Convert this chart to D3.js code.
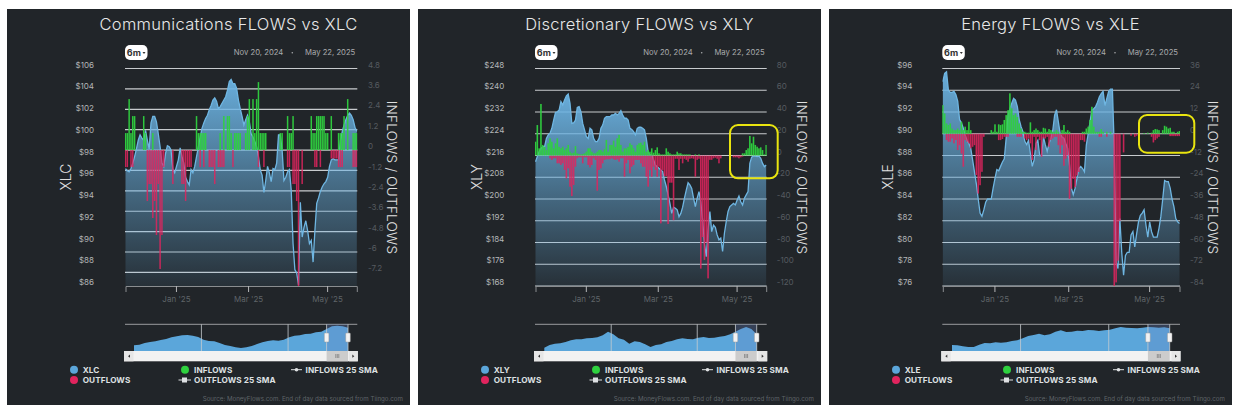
<!DOCTYPE html>
<html><head><meta charset="utf-8">
<script src="https://cdn.jsdelivr.net/npm/d3@7"></script>
<style>
html,body{margin:0;padding:0;background:#fff}
svg{display:block}
text{font-family:Inter,"Open Sans",sans-serif}
</style></head><body><svg id="c" width="1237" height="409"></svg>
<script>
const xlcPrice=[96.8,96.6,96.5,96.8,97.3,97.9,98.6,99.4,99.9,99.6,99.4,100.3,99.4,98.6,101,101.6,101.6,101.1,100,98.8,97.3,97,98.2,98.9,98.8,98.5,96.7,96.4,97,97.6,98.7,97.9,97.3,96,95.6,95.3,96.7,96.4,97,97.9,98.8,99.7,100.5,101,101.4,101.7,102.2,102.6,103.1,103.3,103,102.3,102.5,102.8,103.1,103.4,104,104.8,105,104.6,104.6,104.2,103.1,102.3,101.6,100.8,101.3,101.7,101.1,100,99.7,99.3,98.8,97.9,96.66,96.2,94.6,95.7,97,96.4,95.6,96.8,96.7,97.3,99.9,99.9,98.5,95.7,96,96.5,96.7,94.8,89.9,87.5,87.2,86.1,93.7,90.5,91.4,92,91.1,89.9,90.2,88.2,91.1,93.6,94.1,94.7,95.1,95.4,95.6,96,97,97.6,97.7,97.6,97.6,97.6,99.4,100.2,100.8,101.3,101.7,101.9,101.7,101.3,100.6,100.2];
const xlcIn=[1,1,3,1,2,2,0,0,0,0,2,1,0,0,0,1,0,0,0,0,0,0,0,0,0,0,0,0,0,0,0,0,0,0,0,0,0,0,0,2,1,1,1,1,1,0,0,0,0,0,0,0,1,0,2,0,2,2,1,0,1,1,1,1,0,0,1,2,3,0,3,1,3,4,1,1,1,1,0,0,0,0,0,0,0,1,1,0,0,2,1,1,2,0,0,0,0,0,0,0,0,0,2,1,1,2,2,2,2,2,1,1,0,2,0,0,0,1,1,1,2,0,3,0,0,1,1,1];
const xlcOut=[-1,-1,0,-1,-1,0,0,0,0,0,0,0,-3,-2,-2,-4,-3,-5,-2,-7,-5,-1,0,0,0,0,-2,0,0,0,0,-2,-2,-3,-1,-1,-1,0,0,0,0,-1,0,-1,0,0,-1,-1,-1,-2,0,-1,-1,-1,-1,0,0,0,0,-1,0,0,0,0,0,0,0,0,0,0,0,0,0,-1,0,0,-1,0,0,0,0,0,0,0,0,0,0,0,0,-1,-1,0,-2,-2,-3,-8,0,-2,0,0,0,0,0,0,-1,-1,0,-1,0,0,0,0,0,-0.5,-0.5,-0.5,-0.5,-1,-1,-1,0,0,0,0,0,-1,-1,-1];
const xlcNav=[17,19,24,27,29,33,36,41,44,47,48,46,42,34,30,29,24,18,15,11,9,11,15,21,26,30,32,31,34,41,46,47,51,52,56,58,66,74,76,74,70];

const xlyPrice=[213.7,215.6,217.4,218.6,219.3,219.3,222.3,223.6,224.2,226,229,231.8,232.1,232.7,235.8,234.6,236.4,237.9,238.6,235.2,227.8,228,229,233.7,234,232.1,227.8,225.4,222.9,222.3,226,225.4,222.3,221.1,221.1,222.3,226,227.2,229.7,230.3,230.3,230.3,230.9,230.9,231.5,230.9,231.5,232.5,230.9,229.7,229.7,229,226,225.6,224.8,223.6,226,226.4,226.4,226,225.4,222.3,217.4,216.2,216.2,214.4,212.5,211.9,211.3,210.7,210.1,207,204.6,201.5,198.4,194.7,197,196.6,196,193.5,194.7,197,200.3,203.3,206,205.2,203.9,200.3,197.2,200.3,202.7,199,192.3,183.7,178.8,188.6,195.4,188,190.4,189.6,186.8,185,185.6,180.7,187.4,191.7,195.4,197.2,197.8,198.4,197.8,199.6,201.1,199,197.8,200.3,201.5,202.7,213.1,215.4,215.8,215.8,215.6,215.8,215,213.1,211.9,212.5];
const xlyIn=[12.7,28,6.6,47.4,9.7,8,5,11.2,15.8,12.7,6.6,11.2,15.8,8,6.6,8,5,6.6,9.7,3.5,2,2.6,8.7,2,1.4,1,1.4,2,3.5,6.6,6.6,3.5,2,2,3.5,5,5,3.5,5.7,14.3,3.5,9.7,9.7,13.7,8,15.8,19,9.7,3.5,6.6,6.6,8,11.2,9.7,6.6,3.5,9.7,11.2,11.8,9.7,12.7,3.5,5,3.5,6.6,2.6,5,7.5,2,1,1,1,6.6,3.5,2,1,1,1,3.5,2,2,1,1,1,1,1,0,0,1,0,1,0,0,0,0,0,0,0,0,0,0,0,0,0,0,0,0,0,0,0,0,0,0,0,2,2,5,6.6,18,11.2,17.3,9.7,8.1,6.6,7.5,5,1,9.7];
const xlyOut=[0,0,0,0,0,0,0,0,-2.6,-4.1,-2.6,-2.6,-7.2,-7.2,-8.7,-7.2,-13.3,-21,-11.8,-28.7,-37.3,-27.1,-10.3,-2.6,-1.7,-1.7,-7.2,-1.7,-1.7,-8.7,-10.9,-8.7,-2.6,-4.1,-32.4,-13.3,-11.8,-7.2,-4.1,-3.5,-3.5,-3.5,-2.6,-3.5,-4.1,-3.5,-5.7,-2.6,-2.6,-19.5,-7.2,-4.1,-16.4,-10.3,-8.7,-4.1,-4.1,-4.1,-7.2,-10.3,-10.3,-19.5,-28.7,-13.3,-19.5,-10.3,-13.3,-19.5,-10.3,-62.4,-13.3,-19,-19,-63,-25,-25,-59.5,-3,-3,-13.3,-3,-7.2,-3,-4,-5.7,-3,-2.6,-3,-19.5,-4,-3,-104,-75,-96,-80,-113,-4,-4,-2.6,-2,-3,-7.2,-2.6,0,0,0,0,0,0,-1.7,-1.7,-1.7,-2.6,-1.7,-1,0,0,0,0,0,0,0,0,0,0,0,0,0];
const xlyNav=[10,18,22,23,27,32,35,35,38,39,41,47,58,50,38,34,22,29,27,20,12,18,20,27,30,35,38,36,35,40,42,39,40,43,45,50,58,66,72,66,50];

const xlePrice=[94.8,95.55,95.7,94,93.8,93.8,93.9,93.6,93,91.3,91,90.5,89.9,89.4,89.1,88.65,87.6,86.5,85.4,84,82.7,82.4,83,83.7,84,84,84,85,85.9,86.7,86.6,87,87.4,87.7,89.6,91.7,92.3,92.8,93.25,93.1,92.5,91.3,90.65,90.2,89.3,89,89.4,88.2,87,87.6,89.1,89.4,88,88,89.7,89,88.4,89.1,89.6,90.3,91.7,92.2,91.1,90,89.7,89.6,89.1,88.65,87.1,85,84.4,85,85.9,86.8,87,86.8,86.5,88.95,90,91.1,92.2,92.3,92.5,92.9,93.4,93.7,93.9,92.6,93.25,93.9,94.1,94.1,88.65,78.2,77.6,82.2,79.1,77,78.8,79.1,79.1,80.7,81,79.6,80.8,81.9,82.5,82.7,83,81.6,80.5,81.9,81,80.5,80.5,80.5,81.3,82.4,84,85.7,85.6,85.6,85,84,83.3,82.2,81.9,81.75];
const xleIn=[15.8,11.2,5.7,4.8,5.7,2.9,2,2,2.9,2,6.6,2,3.9,2,6.6,2,0,0,0,0,0,0,0,0,0,0,2,1.1,5.2,1.1,5.2,4.8,5.2,7.6,10.3,13,22.3,14,10.3,11.2,9.2,5.7,2.9,1.1,1.1,0.6,0.6,6.3,1.1,2,2.9,2,1.1,1.1,3.3,2.9,1.1,2.6,2,1.1,1.1,2,1.1,0.2,2,4.8,1.1,2,1.1,0,0,0,0,0,0,1.1,1.1,2.9,3.9,7.6,14.9,3.9,1.1,1.1,1.1,2.6,1.1,0,1.1,0,1.1,0,0,0,0,0,0,0,0,0,0,0,0,0,0,0,0,0,0.4,0,0.6,0,0.6,2,2.6,2.4,2,0.2,2,4.4,3.9,2.9,3.3,1.1,1.1,0.2,1.1,1.5];
const xleOut=[0,0,-3.5,-4.4,-4.4,-2.6,-5.3,-3.5,-9,-6.3,-10.9,-18.2,-3.5,-4.4,-5.3,-8.1,-7.2,-6.3,-22.8,-33,-28.4,-21,-1.7,0,0,0,0,0,0,0,-3.5,-3.5,-2.9,-1.7,-1.7,-1.7,0,0,0,0,-1.7,-1.7,-1.7,0,-2.6,-3.5,-2.6,-5.3,-14.5,-1.7,-9,-1.7,-3.5,-12.7,-2.6,-2.6,-1.7,-7.2,-3.5,-2.6,-1.7,-1.7,-6.3,-10.9,-6.3,-17.7,-13.8,-11.9,-35.9,-30.4,-24.9,-29.5,-23,-21.1,-3.5,-3.5,-4.4,0,0,0,0,0,0,0,-1.7,-1.7,0,0,-1.7,0,0,0,-84,-82,-70,-48,0,-10.3,0,0,0,-1.1,0,-1.7,-1.1,0,0,0,0,0,0,0,-1.7,-4.8,-3.5,-2.6,-1.7,0,0,0,0,0,-1.3,-1.3,-1.3,-1.3,-1.3,-1.3,0,0];
const xleNav=[18,17,14,12,12,19,24,23,26,25,26,30,32,38,45,48,52,47,50,58,62,57,58,61,60,63,62,60,62,64,68,72,70,69,68,70,72,71,70,71,68];

const tickDays=[27.7,67.3,110.7];
const tickNames=["Jan '25","Mar '25","May '25"];
const navTicks=[12.6,28.8];
const navSelection=[36,40];
const xlcLeft=[106,104,102,100,98,96,94,92,90,88,86];
const xlyLeft=[248,240,232,224,216,208,200,192,184,176,168];
const xleLeft=[96,94,92,90,88,86,84,82,80,78,76];
const xlcRight=[4.8,3.6,2.4,1.2,0,-1.2,-2.4,-3.6,-4.8,-6,-7.2];
const xlyRight=[80,60,40,20,0,-20,-40,-60,-80,-100,-120];
const xleRight=[36,24,12,0,-12,-24,-36,-48,-60,-72,-84];
const sectors=["Communications","Discretionary","Energy"];
const tickers=["XLC","XLY","XLE"];
const startDate="Nov 20, 2024", endDate="May 22, 2025";
const legendA=["INFLOWS","INFLOWS 25 SMA"];
const sourceNote="Source: MoneyFlows.com. End of day data sourced from Tiingo.com";

const panels=[
 {i:0,px:7,x0:125,x1:357.3,navX:[134,348],price:xlcPrice,inf:xlcIn,out:xlcOut,nav:xlcNav,left:xlcLeft,right:xlcRight,rightMin:-8,labL:94,labR:368,titleL:66,titleR:391.7,barW:1.5},
 {i:1,px:418,x0:535,x1:766.7,navX:[544.3,756.7],price:xlyPrice,inf:xlyIn,out:xlyOut,nav:xlyNav,left:xlyLeft,right:xlyRight,rightMin:-120,labL:504.3,labR:776.7,titleL:476.7,titleR:801.7,barW:1.6,box:[730,125,47.7,53.3]},
 {i:2,px:829,x0:942.3,x1:1180,navX:[952,1169.7],price:xlePrice,inf:xleIn,out:xleOut,nav:xleNav,left:xleLeft,right:xleRight,rightMin:-84,labL:912.3,labR:1190,titleL:887.7,titleR:1213,barW:1.6,box:[1139,115,55.3,37.7]}
];
const TOP=68.5,BOT=286;
const svg=d3.select("#c");
const defs=svg.append("defs");
const g=defs.append("linearGradient").attr("id","ag").attr("x1",0).attr("x2",0).attr("y1",0).attr("y2",1);
g.append("stop").attr("offset",0).attr("stop-color","#6cb4e4").attr("stop-opacity",.95);
g.append("stop").attr("offset",.5).attr("stop-color","#6cb4e4").attr("stop-opacity",.5);
g.append("stop").attr("offset",1).attr("stop-color","#6cb4e4").attr("stop-opacity",.08);

panels.forEach(p=>{
  const G=svg.append("g");
  G.append("rect").attr("x",p.px).attr("y",9).attr("width",403).attr("height",396).attr("fill","#212529");
  G.append("text").attr("x",p.px+221.5).attr("y",29.5).attr("text-anchor","middle").attr("font-size",16.5).attr("fill","#e8e8e8").attr("font-weight",300).attr("letter-spacing",.3)
    .text(`${sectors[p.i]} FLOWS vs ${tickers[p.i]}`);
  const x=d3.scaleLinear().domain([0,p.price.length-1]).range([p.x0+.5,p.x1-.5]);
  const yL=d3.scaleLinear().domain([p.left[0],p.left[p.left.length-1]]).range([TOP,BOT]);
  const yR=d3.scaleLinear().domain([p.right[0],p.rightMin]).range([TOP,BOT]);
  G.append("g").selectAll("line").data(p.right).join("line")
    .attr("x1",p.x0).attr("x2",p.x1).attr("y1",d=>yR(d)).attr("y2",d=>yR(d)).attr("stroke","#c8cbce").attr("stroke-width",1.2);
  const clip="cl"+p.i;
  defs.append("clipPath").attr("id",clip).append("rect").attr("x",p.x0).attr("y",TOP-4).attr("width",p.x1-p.x0).attr("height",BOT-TOP+4);
  const pg=G.append("g").attr("clip-path",`url(#${clip})`);
  pg.append("path").attr("d",d3.area().x((d,i)=>x(i)).y0(BOT).y1(d=>yL(d))(p.price)).attr("fill","url(#ag)");
  pg.append("path").attr("d",d3.line().x((d,i)=>x(i)).y(d=>yL(d))(p.price)).attr("fill","none").attr("stroke","#6fb6e2").attr("stroke-width",1.3);
  pg.append("g").selectAll("rect").data(p.out).join("rect").attr("x",(d,i)=>x(i)-p.barW/2).attr("width",p.barW)
    .attr("y",yR(0)).attr("height",d=>yR(d)-yR(0)).attr("fill","#e0245e").attr("opacity",.85);
  pg.append("g").selectAll("rect").data(p.inf).join("rect").attr("x",(d,i)=>x(i)-p.barW/2).attr("width",p.barW)
    .attr("y",d=>yR(d)).attr("height",d=>yR(0)-yR(d)).attr("fill","#2fd13f").attr("opacity",.95);
  const ax=G.append("g").attr("transform",`translate(0,${BOT})`).call(d3.axisBottom(x).tickValues(tickDays).tickFormat((d,i)=>tickNames[i]).tickSize(6).tickPadding(4));
  ax.select(".domain").attr("stroke","#8a8d90").attr("stroke-width",1);
  ax.selectAll("line").attr("stroke","#b5b7b9");
  ax.selectAll("text").attr("fill","#5f6468").attr("font-size",8).style("font-family","Inter");
  const al=G.append("g").attr("transform",`translate(${p.labL+3},-4)`).call(d3.axisLeft(yL).tickValues(p.left).tickFormat(d=>"$"+d).tickSize(0).tickPadding(3));
  al.select(".domain").remove();
  al.selectAll("text").attr("fill","#b4b6b8").attr("font-size",8).style("font-family","Inter");
  const ar=G.append("g").attr("transform",`translate(${p.labR-3},-4)`).call(d3.axisRight(yR).tickValues(p.right).tickFormat(d=>d).tickSize(0).tickPadding(3));
  ar.select(".domain").remove();
  ar.selectAll("text").attr("fill","#565b60").attr("font-size",8).style("font-family","Inter");
  G.append("text").attr("transform",`translate(${p.titleL},177) rotate(-90)`).attr("text-anchor","middle").attr("dy",".35em").attr("font-size",14).attr("fill","#e0e0e0").attr("font-weight",300).text(tickers[p.i]);
  G.append("text").attr("transform",`translate(${p.titleR},177.5) rotate(90)`).attr("text-anchor","middle").attr("dy",".35em").attr("font-size",13.6).attr("fill","#e0e0e0").attr("font-weight",300).attr("letter-spacing",.2).text("INFLOWS / OUTFLOWS");
  G.append("rect").attr("x",p.x0).attr("y",45).attr("width",22.5).attr("height",15).attr("rx",5).attr("fill","#fff");
  G.append("text").attr("x",p.x0+1.8).attr("y",56).attr("font-size",9).attr("font-weight",700).attr("fill","#333").text("6m");
  G.append("path").attr("d",`M${p.x0+17.5},52l3,0l-1.5,2z`).attr("fill","#333");
  G.append("text").attr("x",p.x1-2).attr("y",55.3).attr("text-anchor","end").attr("font-size",7.7).attr("fill","#a9abad").text(endDate);
  G.append("circle").attr("cx",p.x1-65).attr("cy",52.8).attr("r",.8).attr("fill","#a9abad");
  G.append("text").attr("x",p.x1-74).attr("y",55.3).attr("text-anchor","end").attr("font-size",7.7).attr("fill","#a9abad").text(startDate);
  if(p.box) G.append("rect").attr("x",p.box[0]).attr("y",p.box[1]).attr("width",p.box[2]).attr("height",p.box[3]).attr("rx",8).attr("fill","none").attr("stroke","#e9e40f").attr("stroke-width",2);
  const nTop=324.3,nBot=351;
  const nx=d3.scaleLinear().domain([0,p.nav.length-1]).range(p.navX);
  const ny=d3.scaleLinear().domain([0,80]).range([nBot,nTop]);
  G.append("line").attr("x1",p.x0).attr("x2",p.x1).attr("y1",nTop).attr("y2",nTop).attr("stroke","#9a9c9e");
  G.append("path").attr("d",d3.area().x((d,i)=>nx(i)).y0(nBot).y1(d=>ny(d))(p.nav)).attr("fill","#5ba6da");
  G.append("g").selectAll("line").data(navTicks).join("line").attr("x1",d=>nx(d)).attr("x2",d=>nx(d)).attr("y1",nTop).attr("y2",nBot).attr("stroke","#c6cbcf").attr("stroke-width",.8);
  const s0=nx(navSelection[0]),s1=nx(navSelection[1]);
  G.append("rect").attr("x",s0).attr("y",nTop).attr("width",s1-s0).attr("height",nBot-nTop).attr("fill","#6685c2").attr("opacity",.3);
  [s0,s1].forEach(s=>{
    G.append("line").attr("x1",s).attr("x2",s).attr("y1",nTop).attr("y2",nBot).attr("stroke","#c6cbcf").attr("stroke-width",.8);
    G.append("rect").attr("x",s-2.3).attr("y",333).attr("width",4.6).attr("height",9).attr("rx",.8).attr("fill","#f2f2f2").attr("stroke","#999").attr("stroke-width",.5);
  });
  const sbL=p.x0-1,sbR=p.x1+.5;
  G.append("rect").attr("x",sbL).attr("y",nBot).attr("width",sbR-sbL).attr("height",10.3).attr("fill","#f2f2f2");
  G.append("rect").attr("x",sbL).attr("y",nBot).attr("width",9.5).attr("height",10.3).attr("fill","#e6e6e6");
  G.append("rect").attr("x",sbR-9).attr("y",nBot).attr("width",9).attr("height",10.3).attr("fill","#e6e6e6");
  G.append("rect").attr("x",s0).attr("y",nBot).attr("width",s1-s0).attr("height",10.3).attr("fill","#cccccc");
  G.append("path").attr("d",`M${sbL+6},${nBot+3.6}l-2,1.6l2,1.6z`).attr("fill","#333");
  G.append("path").attr("d",`M${sbR-5.5},${nBot+3.6}l2,1.6l-2,1.6z`).attr("fill","#333");
  [-1.5,0,1.5].forEach(o=>G.append("line").attr("x1",(s0+s1)/2+o).attr("x2",(s0+s1)/2+o).attr("y1",nBot+3).attr("y2",nBot+7).attr("stroke","#666").attr("stroke-width",.6));
  const lx=p.px+67, ly=369.7, ly2=380;
  const ts=(xx,yy,t)=>G.append("text").attr("x",xx).attr("y",yy+3).attr("font-size",8.2).attr("font-weight",700).attr("fill","#dfe1e3").attr("letter-spacing",.1).text(t);
  G.append("circle").attr("cx",lx).attr("cy",ly).attr("r",4).attr("fill","#5ba6da");
  ts(lx+8.7,ly,tickers[p.i]);
  G.append("circle").attr("cx",lx).attr("cy",ly2).attr("r",4).attr("fill","#e0245e");
  ts(lx+8.7,ly2,"OUTFLOWS");
  G.append("circle").attr("cx",lx+111).attr("cy",ly).attr("r",4).attr("fill","#2fd13f");
  ts(lx+120,ly,legendA[0]);
  G.append("line").attr("x1",lx+104.5).attr("x2",lx+117).attr("y1",ly2).attr("y2",ly2).attr("stroke","#dfe1e3");
  G.append("rect").attr("x",lx+108).attr("y",ly2-2.5).attr("width",5).attr("height",5).attr("fill","#dfe1e3");
  ts(lx+120,ly2,"OUTFLOWS 25 SMA");
  G.append("line").attr("x1",lx+217).attr("x2",lx+228).attr("y1",ly).attr("y2",ly).attr("stroke","#dfe1e3");
  G.append("circle").attr("cx",lx+222.5).attr("cy",ly).attr("r",1.8).attr("fill","#dfe1e3");
  ts(lx+231.5,ly,legendA[1]);
  G.append("text").attr("x",p.px+396).attr("y",401).attr("text-anchor","end").attr("font-size",6.2).attr("fill","#5f6468").text(sourceNote);
});
</script></body></html>
